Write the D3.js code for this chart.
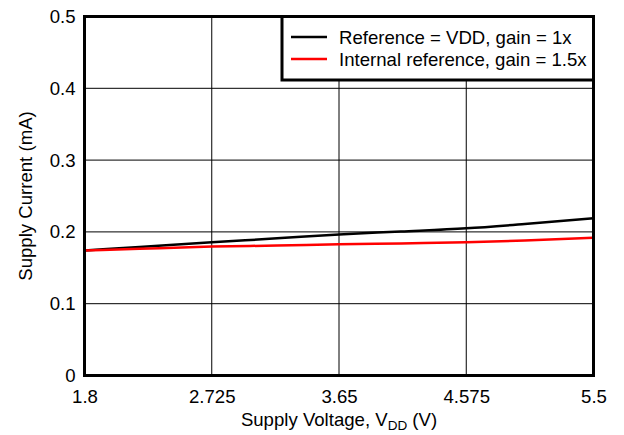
<!DOCTYPE html>
<html><head><meta charset="utf-8">
<script src="https://cdn.jsdelivr.net/npm/d3@7"></script>
<style>body{margin:0;background:#fff}svg{display:block}text{font-family:"Liberation Sans",Arial,sans-serif;fill:#000}</style>
</head><body><svg id="c" width="624" height="435"></svg>
<script>
const xTicks = [1.8, 2.725, 3.65, 4.575, 5.5];
const yTicks = [0, 0.1, 0.2, 0.3, 0.4, 0.5];
const voltage = [1.8, 2.2, 2.725, 3.2, 3.65, 4.1, 4.575, 5.0, 5.5];
const refVDD = [0.174, 0.179, 0.1855, 0.191, 0.1965, 0.2005, 0.205, 0.211, 0.219];
const internalRef = [0.174, 0.1765, 0.1795, 0.181, 0.1827, 0.184, 0.1855, 0.188, 0.192];
const seriesNames = ["Reference = VDD, gain = 1x", "Internal reference, gain = 1.5x"];
const seriesColors = ["#000000", "#ff0000"];

const FS = 18.6;
const svg = d3.select("#c");
const L = 84.5, R = 593.5, T = 16.5, B = 375.5;
const x = d3.scaleLinear().domain([1.8, 5.5]).range([L, R]);
const y = d3.scaleLinear().domain([0, 0.5]).range([B, T]);

// grid
svg.append("g").selectAll("line").data(xTicks.slice(1, -1)).join("line")
  .attr("x1", d => x(d)).attr("x2", d => x(d)).attr("y1", T).attr("y2", B)
  .attr("stroke", "#000").attr("stroke-width", 1);
svg.append("g").selectAll("line").data(yTicks.slice(1, -1)).join("line")
  .attr("x1", L).attr("x2", R).attr("y1", d => y(d)).attr("y2", d => y(d))
  .attr("stroke", "#000").attr("stroke-width", 1);

// axes labels
const xa = svg.append("g").attr("transform", `translate(0,${B})`)
  .call(d3.axisBottom(x).tickValues(xTicks).tickFormat(d => String(d)).tickSize(0).tickPadding(14.5));
xa.select(".domain").remove();
xa.selectAll("text").attr("font-size", FS).attr("font-family", "Liberation Sans, Arial, sans-serif");
const ya = svg.append("g").attr("transform", `translate(${L},0)`)
  .call(d3.axisLeft(y).tickValues(yTicks).tickFormat(d => d === 0 ? "0" : d3.format(".1f")(d)).tickSize(0).tickPadding(9));
ya.select(".domain").remove();
ya.selectAll("text").attr("font-size", FS).attr("font-family", "Liberation Sans, Arial, sans-serif");

// curves
const line = d3.line().curve(d3.curveMonotoneX).x((d, i) => x(voltage[i])).y(d => y(d));
[refVDD, internalRef].forEach((s, i) => {
  svg.append("path").attr("d", line(s)).attr("fill", "none")
    .attr("stroke", seriesColors[i]).attr("stroke-width", 2.5);
});

// frame
svg.append("rect").attr("x", L).attr("y", T).attr("width", R - L).attr("height", B - T)
  .attr("fill", "none").attr("stroke", "#000").attr("stroke-width", 3);

// legend
const lg = svg.append("g");
lg.append("rect").attr("x", 282).attr("y", T).attr("width", R - 282).attr("height", 80 - T)
  .attr("fill", "#fff").attr("stroke", "#000").attr("stroke-width", 3);
seriesNames.forEach((n, i) => {
  const yy = 37 + i * 22;
  lg.append("line").attr("x1", 291).attr("x2", 327).attr("y1", yy).attr("y2", yy)
    .attr("stroke", seriesColors[i]).attr("stroke-width", 2.5);
  lg.append("text").attr("x", 339).attr("y", yy + 7).attr("font-size", FS).text(n);
});

// titles
const xt = svg.append("text").attr("x", 339).attr("y", 425.5).attr("text-anchor", "middle").attr("font-size", FS);
xt.append("tspan").text("Supply Voltage, V");
xt.append("tspan").attr("font-size", 13.5).attr("dy", 4).text("DD");
xt.append("tspan").attr("dy", -4).text(" (V)");
svg.append("text").attr("transform", `translate(32,${(T + B) / 2}) rotate(-90)`)
  .attr("text-anchor", "middle").attr("font-size", FS).text("Supply Current (mA)");
</script></body></html>
